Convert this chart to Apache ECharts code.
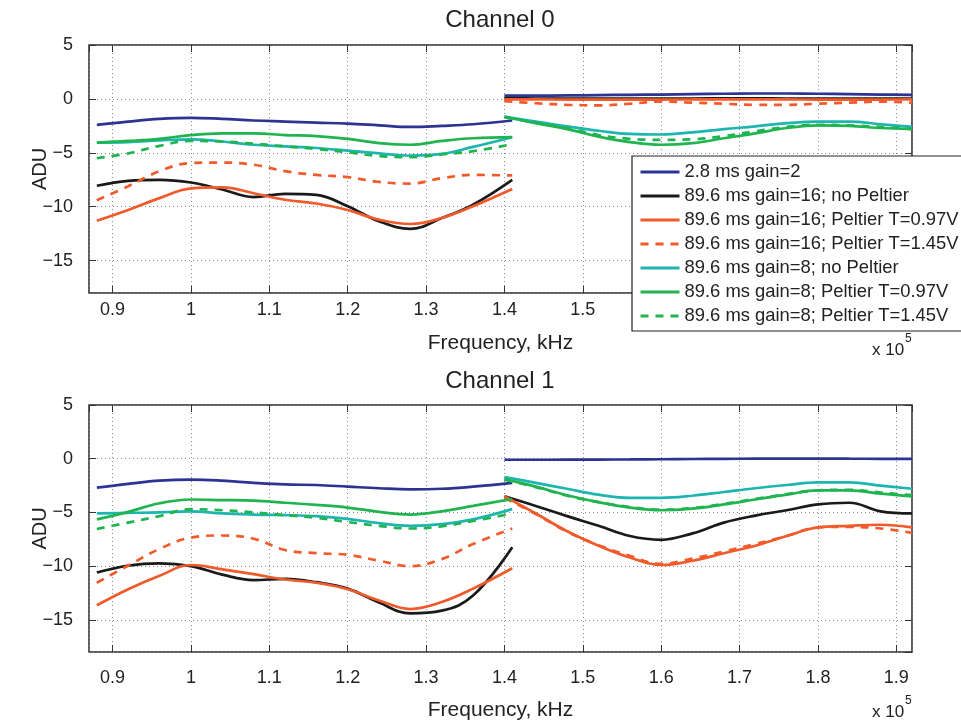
<!DOCTYPE html>
<html>
<head>
<meta charset="utf-8">
<script src="https://cdn.jsdelivr.net/npm/echarts@6/dist/echarts.min.js"></script>
<style>
  html, body { margin: 0; background: #fff; }
  #chart { width: 961px; height: 722px; }
</style>
</head>
<body>
<div id="chart"></div>
<script>
// frequency samples (x 10^5 Hz), two sweep segments
var freqA = [0.88, 0.92, 0.96, 1.00, 1.04, 1.08, 1.12, 1.16, 1.20, 1.24, 1.28, 1.32, 1.36, 1.41];
var freqB = [1.40, 1.44, 1.48, 1.52, 1.56, 1.60, 1.64, 1.68, 1.72, 1.76, 1.80, 1.84, 1.88, 1.92];

var legendNames = [
  '2.8 ms gain=2',
  '89.6 ms gain=16; no Peltier',
  '89.6 ms gain=16; Peltier T=0.97V',
  '89.6 ms gain=16; Peltier T=1.45V',
  '89.6 ms gain=8; no Peltier',
  '89.6 ms gain=8; Peltier T=0.97V',
  '89.6 ms gain=8; Peltier T=1.45V'
];

// Channel 0
var ch0Gain2A   = [-2.4, -2.1, -1.85, -1.75, -1.85, -2.0, -2.1, -2.2, -2.3, -2.45, -2.6, -2.5, -2.35, -2.0];
var ch0Gain2B   = [0.3, 0.3, 0.32, 0.35, 0.38, 0.4, 0.45, 0.48, 0.5, 0.5, 0.48, 0.45, 0.4, 0.38];
var ch0G16NoPA  = [-8.05, -7.6, -7.5, -7.75, -8.4, -9.1, -8.8, -8.9, -9.95, -11.35, -12.05, -11.05, -9.8, -7.5];
var ch0G16NoPB  = [0.05, 0.04, 0.03, 0.02, 0.02, 0.03, 0.04, 0.05, 0.05, 0.04, 0.03, 0.02, 0.02, 0.03];
var ch0G16T097A = [-11.3, -10.3, -9.2, -8.3, -8.2, -8.75, -9.35, -9.7, -10.3, -11.2, -11.6, -11.05, -9.95, -8.35];
var ch0G16T097B = [-0.05, -0.05, -0.06, -0.07, -0.07, -0.06, -0.05, -0.04, -0.04, -0.05, -0.06, -0.07, -0.06, -0.05];
var ch0G16T145A = [-9.4, -8.1, -6.7, -5.95, -5.9, -6.1, -6.7, -7.05, -7.25, -7.7, -7.85, -7.35, -7.05, -7.1];
var ch0G16T145B = [-0.2, -0.4, -0.55, -0.6, -0.45, -0.25, -0.35, -0.45, -0.55, -0.55, -0.45, -0.35, -0.25, -0.35];
var ch0G8NoPA   = [-4.05, -4.0, -3.85, -3.75, -3.95, -4.25, -4.4, -4.55, -4.8, -5.05, -5.25, -5.1, -4.45, -3.55];
var ch0G8NoPB   = [-1.65, -2.1, -2.55, -2.95, -3.25, -3.3, -3.1, -2.8, -2.55, -2.25, -2.1, -2.1, -2.35, -2.6];
var ch0G8T097A  = [-4.05, -3.9, -3.7, -3.35, -3.2, -3.2, -3.35, -3.45, -3.7, -4.1, -4.25, -3.9, -3.65, -3.55];
var ch0G8T097B  = [-1.65, -2.25, -2.8, -3.5, -4.0, -4.25, -4.1, -3.65, -3.2, -2.7, -2.45, -2.5, -2.7, -2.8];
var ch0G8T145A  = [-5.5, -5.05, -4.35, -3.9, -3.95, -4.15, -4.4, -4.65, -4.95, -5.3, -5.4, -5.15, -4.85, -4.2];
var ch0G8T145B  = [-1.7, -2.2, -2.7, -3.35, -3.7, -3.8, -3.75, -3.45, -3.0, -2.6, -2.4, -2.45, -2.6, -2.8];

// Channel 1
var ch1Gain2A   = [-2.7, -2.35, -2.05, -1.95, -2.05, -2.25, -2.4, -2.45, -2.6, -2.75, -2.85, -2.8, -2.6, -2.25];
var ch1Gain2B   = [-0.1, -0.1, -0.09, -0.08, -0.07, -0.05, -0.03, -0.01, 0.0, 0.01, 0.01, 0.0, -0.01, -0.02];
var ch1G16NoPA  = [-10.6, -9.95, -9.75, -10.0, -10.8, -11.3, -11.2, -11.5, -12.1, -13.4, -14.4, -14.15, -12.75, -8.25];
var ch1G16NoPB  = [-3.5, -4.4, -5.35, -6.25, -7.2, -7.55, -6.95, -5.95, -5.3, -4.8, -4.25, -4.1, -4.9, -5.1];
var ch1G16T097A = [-13.65, -12.15, -10.9, -9.9, -10.3, -10.75, -11.25, -11.55, -12.15, -13.2, -14.0, -13.35, -12.1, -10.2];
var ch1G16T097B = [-3.5, -5.1, -6.75, -8.1, -9.2, -9.9, -9.5, -8.8, -8.1, -7.2, -6.4, -6.25, -6.15, -6.4];
var ch1G16T145A = [-11.55, -9.95, -8.4, -7.35, -7.15, -7.45, -8.5, -8.8, -8.95, -9.5, -10.0, -9.35, -7.95, -6.5];
var ch1G16T145B = [-3.65, -5.15, -6.8, -8.05, -9.05, -9.8, -9.3, -8.65, -7.95, -7.2, -6.4, -6.35, -6.5, -6.9];
var ch1G8NoPA   = [-5.1, -5.05, -5.0, -4.9, -5.1, -5.2, -5.25, -5.35, -5.6, -6.0, -6.25, -6.1, -5.65, -4.7];
var ch1G8NoPB   = [-1.7, -2.25, -2.8, -3.35, -3.65, -3.65, -3.45, -3.1, -2.75, -2.45, -2.2, -2.2, -2.5, -2.8];
var ch1G8T097A  = [-5.65, -4.95, -4.15, -3.8, -3.85, -3.9, -4.1, -4.3, -4.55, -4.95, -5.2, -4.9, -4.4, -3.75];
var ch1G8T097B  = [-1.9, -2.6, -3.4, -4.05, -4.55, -4.8, -4.65, -4.25, -3.8, -3.35, -2.95, -2.95, -3.25, -3.5];
var ch1G8T145A  = [-6.55, -5.95, -5.35, -4.7, -4.8, -5.0, -5.25, -5.5, -5.9, -6.25, -6.5, -6.3, -5.8, -5.1];
var ch1G8T145B  = [-1.95, -2.65, -3.45, -4.05, -4.5, -4.75, -4.6, -4.2, -3.75, -3.3, -2.95, -2.9, -3.15, -3.4];

var ch0Data = [
  [ch0Gain2A, ch0Gain2B], [ch0G16NoPA, ch0G16NoPB], [ch0G16T097A, ch0G16T097B],
  [ch0G16T145A, ch0G16T145B], [ch0G8NoPA, ch0G8NoPB], [ch0G8T097A, ch0G8T097B], [ch0G8T145A, ch0G8T145B]
];
var ch1Data = [
  [ch1Gain2A, ch1Gain2B], [ch1G16NoPA, ch1G16NoPB], [ch1G16T097A, ch1G16T097B],
  [ch1G16T145A, ch1G16T145B], [ch1G8NoPA, ch1G8NoPB], [ch1G8T097A, ch1G8T097B], [ch1G8T145A, ch1G8T145B]
];

var lineColors = ['#2B3393', '#1a1a1a', '#F15A2B', '#F15A2B', '#1DB5B0', '#1FB44F', '#1FB44F'];
var lineTypes = ['solid', 'solid', 'solid', [8, 7], 'solid', 'solid', [8, 7]];

var FONT = '"Liberation Sans", Arial, Helvetica, sans-serif';

// both sweep segments in one series, broken by an empty point
function joinSegments(a, b) {
  var pts = [];
  for (var i = 0; i < freqA.length; i++) pts.push([freqA[i], a[i]]);
  pts.push([1.405, null]);
  for (var j = 0; j < freqB.length; j++) pts.push([freqB[j], b[j]]);
  return pts;
}

function minusSign(v) {
  return String(v).replace('-', '\u2212');
}

var grids = [
  { left: 89, top: 45, width: 823, height: 248 },
  { left: 89, top: 405, width: 823, height: 248 }
];

function xAxes(gridIndex, labelMargin, nameGap) {
  var base = {
    type: 'value', gridIndex: gridIndex, min: 0.87, max: 1.92, splitNumber: 10,
    axisLine: { show: false, onZero: false },
    axisTick: { show: true, inside: true, length: 7, lineStyle: { color: '#333', width: 1 } }
  };
  var bottom = Object.assign({}, base, {
    position: 'bottom',
    name: 'Frequency, kHz', nameLocation: 'middle', nameGap: nameGap,
    nameTextStyle: { fontSize: 21, color: '#222', fontFamily: FONT },
    axisLabel: { show: true, margin: labelMargin, fontSize: 18, color: '#222', fontFamily: FONT,
      showMinLabel: false, showMaxLabel: false },
    splitLine: { show: true, lineStyle: { color: '#8a8a8a', width: 1, type: [1, 3] } }
  });
  var top = Object.assign({}, base, {
    position: 'top',
    axisLabel: { show: false },
    splitLine: { show: false }
  });
  return [bottom, top];
}

function yAxes(gridIndex) {
  var base = {
    type: 'value', gridIndex: gridIndex, min: -18, max: 5, splitNumber: 5,
    axisLine: { show: false, onZero: false },
    axisTick: { show: true, inside: true, length: 7, lineStyle: { color: '#333', width: 1 } }
  };
  var left = Object.assign({}, base, {
    position: 'left',
    name: 'ADU', nameLocation: 'middle', nameGap: 39, nameMoveOverlap: false,
    nameTextStyle: { fontSize: 20, color: '#222', fontFamily: FONT },
    axisLabel: { show: true, margin: 16, fontSize: 18, color: '#222', fontFamily: FONT,
      showMinLabel: false, showMaxLabel: true, formatter: minusSign },
    splitLine: { show: true, lineStyle: { color: '#8a8a8a', width: 1, type: [1, 3] } }
  });
  var right = Object.assign({}, base, {
    position: 'right',
    axisLabel: { show: false },
    splitLine: { show: false }
  });
  return [left, right];
}

var series = [];
[ch0Data, ch1Data].forEach(function (chData, ch) {
  chData.forEach(function (pair, i) {
    series.push({
      type: 'line',
      name: legendNames[i],
      xAxisIndex: ch * 2,
      yAxisIndex: ch * 2,
      data: joinSegments(pair[0], pair[1]),
      symbol: 'none',
      smooth: 0.4,
      connectNulls: false,
      lineStyle: { color: lineColors[i], width: 2.7, type: lineTypes[i] },
      itemStyle: { color: lineColors[i] },
      emphasis: { disabled: true }
    });
  });
});

function textEl(x, y, text, size, align) {
  return {
    type: 'text', x: x, y: y, z: 10,
    style: {
      text: text, fill: '#222', font: size + 'px ' + FONT,
      align: align || 'center', verticalAlign: 'middle',
      textAlign: align || 'center', textVerticalAlign: 'middle'
    }
  };
}

var option = {
  backgroundColor: '#fff',
  animation: false,
  grid: grids.map(function (g) {
    return Object.assign({ show: true, borderColor: '#2a2a2a', borderWidth: 1.5, backgroundColor: '#fff' }, g);
  }),
  xAxis: xAxes(0, 8, 40).concat(xAxes(1, 17, 48)),
  yAxis: yAxes(0).concat(yAxes(1)),
  legend: {
    data: legendNames,
    orient: 'vertical',
    left: 632, top: 156,
    itemWidth: 39, itemHeight: 14, itemGap: 4,
    padding: [6, 8, 5, 7],
    backgroundColor: '#fff',
    borderColor: '#222', borderWidth: 1.2, borderRadius: 0,
    itemStyle: { opacity: 0, color: 'rgba(0,0,0,0)', borderWidth: 0 },
    lineStyle: { width: 3 },
    textStyle: { fontSize: 18.4, color: '#222', fontFamily: FONT, lineHeight: 20 },
    selectedMode: false
  },
  graphic: [
    textEl(500, 20, 'Channel 0', 24),
    textEl(500, 381, 'Channel 1', 24),
    textEl(872, 350, 'x 10', 17, 'left'),
    textEl(905, 339, '5', 12, 'left'),
    textEl(872, 712, 'x 10', 17, 'left'),
    textEl(905, 701, '5', 12, 'left')
  ],
  series: series
};

var myChart = echarts.init(document.getElementById('chart'));
myChart.setOption(option);
</script>
</body>
</html>
